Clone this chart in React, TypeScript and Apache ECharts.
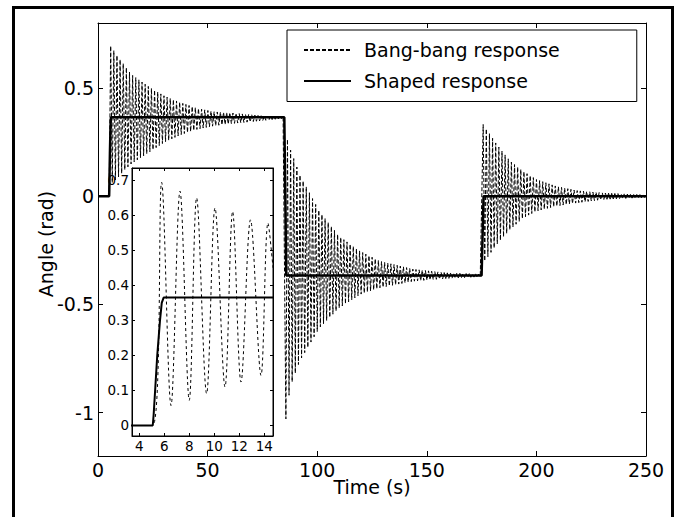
import React, { useEffect, useRef } from "react";
import * as echarts from "echarts";

// ---------- tick labels ----------
const X_TICKS = [0, 50, 100, 150, 200, 250];
const Y_TICKS = [-1, -0.5, 0, 0.5];
const INSET_X_TICKS = [4, 6, 8, 10, 12, 14];
const INSET_Y_TICKS = [0, 0.1, 0.2, 0.3, 0.4, 0.5, 0.6, 0.7];

const SERIES_NAMES = ["Bang-bang response", "Shaped response"];

// ---------- shaped response ----------
const shapedT = [0, 5.08, 5.15, 5.27, 5.44, 5.66, 5.8, 5.95, 85, 85.9, 175, 175.9, 250];
const shapedY = [0, 0, 0.03, 0.1, 0.2, 0.3, 0.35, 0.365, 0.365, -0.366, -0.366, 0, 0];

// ---------- bang-bang response, inset (peaks / troughs) ----------
const insetBangT = [3.42, 5.08, 5.79, 6.54, 7.26, 8.0, 8.59, 9.39, 10.06, 10.86, 11.47, 12.14, 12.9, 13.74, 14.3, 14.7];
const insetBangY = [0, 0, 0.694, 0.057, 0.669, 0.072, 0.65, 0.091, 0.621, 0.11, 0.611, 0.124, 0.587, 0.143, 0.578, 0.45];

// ---------- bang-bang response, main plot: envelopes ----------
const HALF_PERIOD = 0.715; // s, half the oscillation period
const bangStartT = [0, 5.08];
const bangStartY = [0, 0];

const seg1T = [5.8, 9, 12.5, 15.2, 22.8, 30.4, 38, 45.6, 53, 60.8, 76, 85];
const seg1Upper = [0.694, 0.645, 0.6, 0.562, 0.508, 0.462, 0.431, 0.405, 0.39, 0.385, 0.37, 0.368];
const seg1Lower = [0.057, 0.085, 0.125, 0.15, 0.2, 0.25, 0.285, 0.31, 0.325, 0.335, 0.35, 0.36];

const seg2T = [85.7, 87.6, 92, 101, 110, 119.5, 128.6, 143.7, 159, 175];
const seg2Upper = [0.29, 0.22, 0.1, -0.07, -0.185, -0.254, -0.3, -0.337, -0.354, -0.36];
const seg2Lower = [-1.03, -0.885, -0.762, -0.608, -0.516, -0.454, -0.423, -0.393, -0.38, -0.372];

const seg3T = [175.8, 181.9, 188, 194, 200, 209, 218.4, 230.5, 245.8, 250];
const seg3Upper = [0.331, 0.239, 0.162, 0.115, 0.077, 0.046, 0.026, 0.015, 0.008, 0.006];
const seg3Lower = [-0.308, -0.223, -0.154, -0.1, -0.069, -0.046, -0.031, -0.015, -0.008, -0.006];

// first extreme of each segment and whether it is a peak (true) or a trough
const segFirstT = [5.79, 85.72, 175.72];
const segFirstUp = [true, false, true];
const segEndT = [85, 175, 250.01];

function interp(ts: number[], vs: number[], t: number): number {
  if (t <= ts[0]) return vs[0];
  for (let i = 1; i < ts.length; i++) {
    if (t <= ts[i]) {
      const f = (t - ts[i - 1]) / (ts[i] - ts[i - 1]);
      return vs[i - 1] + f * (vs[i] - vs[i - 1]);
    }
  }
  return vs[vs.length - 1];
}

function extremes(firstT: number, endT: number, up: boolean, envT: number[], hi: number[], lo: number[]) {
  const pts: number[][] = [];
  let isUp = up;
  for (let k = 0; ; k++) {
    const t = firstT + k * HALF_PERIOD;
    if (t >= endT) break;
    pts.push([t, interp(envT, isUp ? hi : lo, t)]);
    isUp = !isUp;
  }
  return pts;
}

const FONT = "DejaVu Sans";

export default function App() {
  const ref = useRef<HTMLDivElement>(null);

  useEffect(() => {
    if (!ref.current) return;
    const chart = echarts.init(ref.current, undefined, { renderer: "svg" });

    const shaped = shapedT.map((t, i) => [t, shapedY[i]]);
    const insetBang = insetBangT.map((t, i) => [t, insetBangY[i]]);
    const envs = [
      [seg1T, seg1Upper, seg1Lower],
      [seg2T, seg2Upper, seg2Lower],
      [seg3T, seg3Upper, seg3Lower],
    ];
    let bang: number[][] = bangStartT.map((t, i) => [t, bangStartY[i]]);
    envs.forEach((e, s) => {
      bang = bang.concat(extremes(segFirstT[s], segEndT[s], segFirstUp[s], e[0], e[1], e[2]));
    });

    const lineAxis = { show: true, onZero: false, lineStyle: { color: "#000", width: 1 } };
    const mainTick = (vals: number[] | null) => ({
      show: true,
      inside: true,
      length: 5,
      lineStyle: { color: "#000", width: 1 },
      ...(vals ? { customValues: vals } : {}),
    });
    const insetTick = (vals: number[]) => ({
      show: true,
      inside: true,
      length: 3,
      customValues: vals,
      lineStyle: { color: "#000", width: 1 },
    });
    const mainLabel = { color: "#000", fontFamily: FONT, fontSize: 19, margin: 4 };
    const insetLabel = { color: "#000", fontFamily: FONT, fontSize: 13.5, margin: 3 };

    chart.setOption({
      animation: false,
      backgroundColor: "#fff",
      textStyle: { fontFamily: FONT },
      color: ["#000", "#000"],
      grid: [
        { left: 98, top: 23, right: 35, bottom: 61, show: false },
        {
          left: 132,
          top: 168,
          right: 408,
          bottom: 81,
          show: true,
          backgroundColor: "#fff",
          borderColor: "#000",
          borderWidth: 1,
          z: 10,
        },
      ],
      legend: {
        data: SERIES_NAMES,
        orient: "vertical",
        left: 287,
        top: 30,
        padding: [10.5, 77, 11, 16],
        itemGap: 12,
        itemWidth: 47,
        itemHeight: 14,
        borderColor: "#000",
        borderWidth: 1,
        borderRadius: 0,
        backgroundColor: "#fff",
        selectedMode: false,
        itemStyle: { opacity: 0, borderWidth: 0 },
        textStyle: { fontFamily: FONT, fontSize: 19, color: "#000", padding: [0, 0, 0, 8] },
        z: 20,
      },
      xAxis: [
        {
          type: "value",
          gridIndex: 0,
          position: "bottom",
          min: 0,
          max: 250,
          interval: 50,
          axisLine: lineAxis,
          axisTick: mainTick(null),
          axisLabel: mainLabel,
          splitLine: { show: false },
          name: "Time (s)",
          nameLocation: "middle",
          nameGap: 21,
          nameMoveOverlap: false,
          nameTextStyle: { color: "#000", fontFamily: FONT, fontSize: 19 },
        },
        {
          type: "value",
          gridIndex: 0,
          position: "top",
          min: 0,
          max: 250,
          interval: 50,
          axisLine: lineAxis,
          axisTick: mainTick(null),
          axisLabel: { show: false },
          splitLine: { show: false },
        },
        {
          type: "value",
          gridIndex: 1,
          position: "bottom",
          min: 3.42,
          max: 14.7,
          axisLine: lineAxis,
          axisTick: insetTick(INSET_X_TICKS),
          axisLabel: { ...insetLabel, customValues: INSET_X_TICKS },
          splitLine: { show: false },
          z: 11,
        },
        {
          type: "value",
          gridIndex: 1,
          position: "top",
          min: 3.42,
          max: 14.7,
          axisLine: lineAxis,
          axisTick: insetTick(INSET_X_TICKS),
          axisLabel: { show: false },
          splitLine: { show: false },
          z: 11,
        },
      ],
      yAxis: [
        {
          type: "value",
          gridIndex: 0,
          position: "left",
          min: -1.2,
          max: 0.8,
          axisLine: lineAxis,
          axisTick: mainTick(Y_TICKS),
          axisLabel: { ...mainLabel, customValues: Y_TICKS },
          splitLine: { show: false },
          name: "Angle (rad)",
          nameLocation: "middle",
          nameGap: 43,
          nameMoveOverlap: false,
          nameTextStyle: { color: "#000", fontFamily: FONT, fontSize: 19, padding: [0, 0, 0, -9] },
        },
        {
          type: "value",
          gridIndex: 0,
          position: "right",
          min: -1.2,
          max: 0.8,
          axisLine: lineAxis,
          axisTick: mainTick(Y_TICKS),
          axisLabel: { show: false },
          splitLine: { show: false },
        },
        {
          type: "value",
          gridIndex: 1,
          position: "left",
          min: -0.03,
          max: 0.735,
          axisLine: lineAxis,
          axisTick: insetTick(INSET_Y_TICKS),
          axisLabel: { ...insetLabel, customValues: INSET_Y_TICKS },
          splitLine: { show: false },
          z: 11,
        },
        {
          type: "value",
          gridIndex: 1,
          position: "right",
          min: -0.03,
          max: 0.735,
          axisLine: lineAxis,
          axisTick: insetTick(INSET_Y_TICKS),
          axisLabel: { show: false },
          splitLine: { show: false },
          z: 11,
        },
      ],
      series: [
        {
          name: SERIES_NAMES[0],
          type: "line",
          xAxisIndex: 0,
          yAxisIndex: 0,
          data: bang,
          symbol: "none",
          itemStyle: { color: "#000" },
          lineStyle: { color: "#000", width: 1, type: [4, 2] },
          z: 2,
        },
        {
          name: SERIES_NAMES[1],
          type: "line",
          xAxisIndex: 0,
          yAxisIndex: 0,
          data: shaped,
          symbol: "none",
          itemStyle: { color: "#000" },
          lineStyle: { color: "#000", width: 2.5, type: "solid" },
          z: 3,
        },
        {
          name: SERIES_NAMES[0],
          type: "line",
          xAxisIndex: 2,
          yAxisIndex: 2,
          data: insetBang,
          symbol: "none",
          smooth: 0.35,
          itemStyle: { color: "#000" },
          lineStyle: { color: "#000", width: 1, type: [3, 3] },
          z: 12,
        },
        {
          name: SERIES_NAMES[1],
          type: "line",
          xAxisIndex: 2,
          yAxisIndex: 2,
          data: shaped,
          symbol: "none",
          itemStyle: { color: "#000" },
          lineStyle: { color: "#000", width: 2, type: "solid" },
          z: 13,
        },
      ],
      graphic: [
        {
          type: "rect",
          silent: true,
          z: 30,
          shape: { x: 13.5, y: 7.5, width: 659, height: 540 },
          style: { fill: "none", stroke: "#000", lineWidth: 3 },
        },
      ],
    });

    return () => chart.dispose();
  }, []);

  return (
    <div
      ref={ref}
      style={{ position: "absolute", left: 0, top: 0, width: 681, height: 517 }}
    />
  );
}
